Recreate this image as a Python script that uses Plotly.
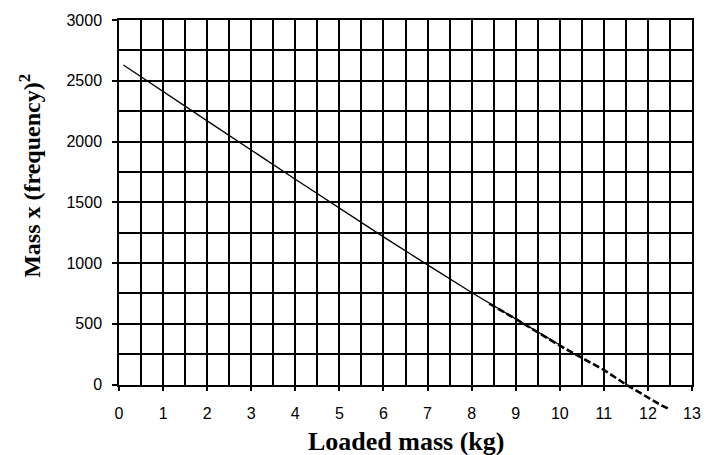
import plotly.graph_objects as go

# data
solid_x = [0.1, 0.45, 2, 4, 6, 7, 8, 9, 10.1]
solid_y = [2630, 2545, 2170, 1690, 1215, 985, 757, 540, 305]
dash_x = [8.4, 9.0, 10.0, 11.0, 11.5, 12.3, 12.5]
dash_y = [665, 540, 320, 120, 0, -170, -205]

x_range = [0, 13]
y_range = [0, 3000]

W, H = 717, 455
m_l, m_r, m_t, m_b = 119, 25, 17, 40
plot_h = H - m_t - m_b
axis_bottom_px = 384.3
d = (H - m_b - axis_bottom_px) / plot_h  # fraction of area below y=0
y2_low = -(y_range[1] * d / (1 - d))

fig = go.Figure()
fig.add_trace(go.Scatter(x=solid_x, y=solid_y, mode="lines",
                         line=dict(color="black", width=1.3),
                         xaxis="x2", yaxis="y2", showlegend=False))
fig.add_trace(go.Scatter(x=dash_x, y=dash_y, mode="lines",
                         line=dict(color="black", width=2.6, dash="7px,3px"),
                         xaxis="x2", yaxis="y2", showlegend=False))
# invisible trace to keep main axes active
fig.add_trace(go.Scatter(x=[None], y=[None], showlegend=False))

tickfont = dict(family="Liberation Sans, Arial", size=16, color="black")

fig.update_layout(
    width=W, height=H,
    margin=dict(l=m_l, r=m_r, t=m_t, b=m_b),
    paper_bgcolor="white",
    plot_bgcolor="rgba(0,0,0,0)",
    xaxis=dict(range=x_range, domain=[0, 1], anchor="y",
               dtick=1, tick0=0, showgrid=True, gridcolor="black", gridwidth=1.5,
               minor=dict(dtick=0.5, showgrid=True, gridcolor="black", gridwidth=1.5),
               showline=True, linecolor="black", linewidth=1.5, mirror=True,
               ticks="outside", ticklen=5, tickwidth=1.5, tickcolor="black",
               ticklabelstandoff=9, tickfont=tickfont, zeroline=False),
    yaxis=dict(range=y_range, domain=[d, 1], anchor="x",
               dtick=500, tick0=0, showgrid=True, gridcolor="black", gridwidth=1.5,
               minor=dict(dtick=250, showgrid=True, gridcolor="black", gridwidth=1.5),
               showline=True, linecolor="black", linewidth=1.5, mirror=True,
               ticks="outside", ticklen=5, tickwidth=1.5, tickcolor="black",
               ticklabelstandoff=7, tickfont=tickfont, zeroline=False),
    xaxis2=dict(range=x_range, domain=[0, 1], anchor="y2", visible=False,
                showgrid=False, zeroline=False),
    yaxis2=dict(range=[y2_low, y_range[1]], domain=[0, 1], anchor="x2", visible=False,
                showgrid=False, zeroline=False),
)

plot_w = W - m_l - m_r
fig.add_annotation(text="<b>Loaded mass (kg)</b>", xref="paper", yref="paper",
                   x=(406 - m_l) / plot_w, y=(H - m_b - 442) / plot_h,
                   xanchor="center", yanchor="middle", showarrow=False,
                   font=dict(family="Liberation Serif, Times New Roman", size=26, color="black"))
fig.add_annotation(text="<b>Mass x (frequency)<sup>2</sup></b>", xref="paper", yref="paper",
                   x=(30 - m_l) / plot_w, y=(H - m_b - 174) / plot_h,
                   xanchor="center", yanchor="middle", showarrow=False, textangle=-90,
                   font=dict(family="Liberation Serif, Times New Roman", size=24, color="black"))

fig.write_html("out.html")
